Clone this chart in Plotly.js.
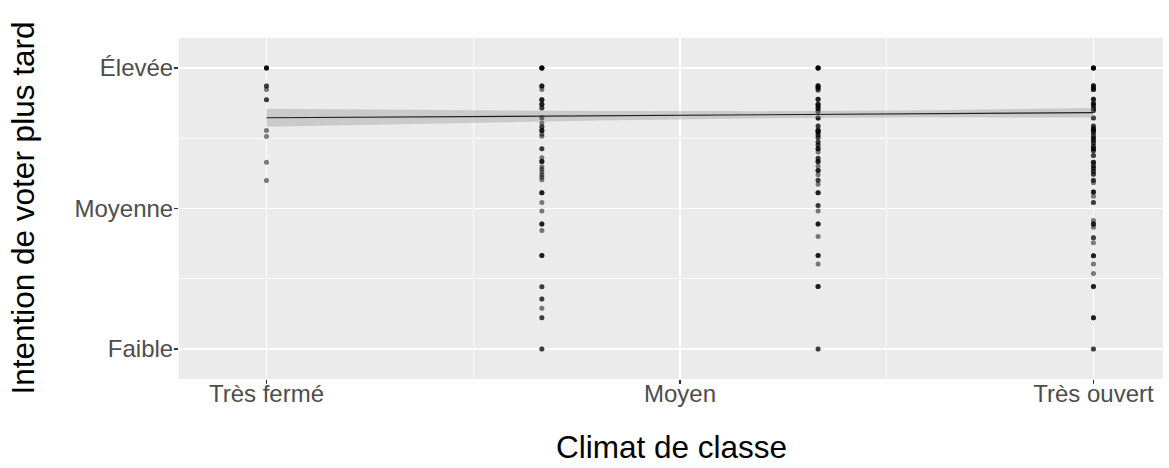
<!DOCTYPE html>
<html>
<head>
<meta charset="utf-8">
<script src="https://cdn.plot.ly/plotly-3.0.1.min.js"></script>
<style>html,body{margin:0;padding:0;background:#fff;}#chart{width:1169px;height:468px;}</style>
</head>
<body>
<div id="chart"></div>
<script>
// Tick labels
const xTickVals = [0, 0.5, 1];
const xTickText = ["Très fermé", "Moyen", "Très ouvert"];
const yTickVals = [0, 0.5, 1];
const yTickText = ["Faible", "Moyenne", "Élevée"];

// Class climate groups (x position of each column of points)
const groupX = [0, 0.333, 0.667, 1];

// Voting intention values per group, with how many respondents share each value
const valsG0 = [1.0, 0.936, 0.924, 0.887, 0.778, 0.756, 0.665, 0.600];
const cntG0  = [4, 2, 1, 2, 1, 1, 1, 1];

const valsG1 = [1.0, 0.936, 0.924, 0.887, 0.871, 0.858, 0.823, 0.805, 0.791, 0.778, 0.765, 0.757, 0.713, 0.681, 0.667, 0.649, 0.640, 0.630, 0.620, 0.612, 0.602, 0.556, 0.521, 0.491, 0.445, 0.422, 0.333, 0.221, 0.178, 0.145, 0.111, 0.0];
const cntG1  = [5, 3, 1, 3, 3, 2, 2, 1, 2, 3, 1, 1, 2, 1, 3, 1, 1, 1, 1, 1, 1, 3, 1, 1, 3, 1, 3, 2, 2, 1, 2, 2];

const valsG2 = [1.0, 0.937, 0.930, 0.922, 0.889, 0.871, 0.862, 0.855, 0.845, 0.822, 0.794, 0.779, 0.772, 0.763, 0.753, 0.737, 0.726, 0.713, 0.701, 0.679, 0.667, 0.651, 0.635, 0.620, 0.601, 0.586, 0.556, 0.511, 0.491, 0.445, 0.400, 0.333, 0.302, 0.222, 0.0];
const cntG2  = [5, 3, 3, 2, 3, 3, 2, 2, 2, 3, 2, 3, 3, 2, 2, 2, 2, 3, 1, 2, 3, 1, 3, 1, 2, 1, 3, 2, 1, 3, 1, 3, 1, 3, 2];

const valsG3 = [1.0, 0.937, 0.930, 0.924, 0.889, 0.874, 0.866, 0.856, 0.849, 0.822, 0.794, 0.785, 0.779, 0.771, 0.759, 0.750, 0.743, 0.733, 0.722, 0.713, 0.706, 0.689, 0.665, 0.652, 0.643, 0.633, 0.622, 0.601, 0.592, 0.559, 0.544, 0.521, 0.457, 0.445, 0.433, 0.396, 0.378, 0.332, 0.302, 0.269, 0.222, 0.111, 0.0];
const cntG3  = [5, 3, 2, 3, 3, 3, 2, 2, 2, 2, 2, 2, 3, 2, 2, 2, 2, 2, 2, 3, 2, 2, 3, 2, 2, 2, 2, 2, 1, 3, 1, 2, 1, 3, 1, 2, 1, 3, 1, 1, 3, 3, 2];

// Linear fit (geom_smooth, method = lm)
const fitX  = [0, 0.2, 0.4, 0.6, 0.8, 1];
const fitY  = [0.823, 0.827, 0.830, 0.834, 0.837, 0.841];
const fitLo = [0.791, 0.803, 0.813, 0.8215, 0.8245, 0.824];
const fitHi = [0.855, 0.851, 0.847, 0.8465, 0.8495, 0.858];

// Expand groups into individual points
const allVals = [valsG0, valsG1, valsG2, valsG3];
const allCnts = [cntG0, cntG1, cntG2, cntG3];
const ptX = [], ptY = [];
allVals.forEach((vals, g) => {
  vals.forEach((v, i) => {
    for (let k = 0; k < allCnts[g][i]; k++) { ptX.push(groupX[g]); ptY.push(v); }
  });
});

const traces = [
  {
    type: 'scatter', mode: 'markers', x: ptX, y: ptY,
    marker: {color: 'rgba(0,0,0,0.5)', size: 5, line: {width: 0}},
    hoverinfo: 'skip', showlegend: false
  },
  {
    type: 'scatter', mode: 'lines', x: fitX, y: fitLo,
    line: {width: 0, color: 'rgba(0,0,0,0)'}, hoverinfo: 'skip', showlegend: false
  },
  {
    type: 'scatter', mode: 'lines', x: fitX, y: fitHi, fill: 'tonexty',
    fillcolor: 'rgba(153,153,153,0.4)',
    line: {width: 0, color: 'rgba(0,0,0,0)'}, hoverinfo: 'skip', showlegend: false
  },
  {
    type: 'scatter', mode: 'lines', x: fitX, y: fitY,
    line: {width: 1.2, color: '#1f1f1f'}, hoverinfo: 'skip', showlegend: false
  }
];

const tickFont = {family: 'Liberation Sans, Arial, sans-serif', size: 24, color: '#4d4d4d'};
const titleFont = {family: 'Liberation Sans, Arial, sans-serif', size: 31.5, color: '#000000'};

const layout = {
  width: 1169, height: 468,
  margin: {l: 179, r: 6, t: 38, b: 89, pad: 0},
  paper_bgcolor: '#ffffff',
  plot_bgcolor: '#ebebeb',
  showlegend: false,
  xaxis: {
    range: [-0.1058, 1.0841], tickmode: 'array', tickvals: xTickVals, ticktext: xTickText,
    showgrid: true, gridcolor: '#ffffff', gridwidth: 1.6, zeroline: false, showline: false,
    ticks: 'outside', ticklen: 4, tickwidth: 1.2, tickcolor: '#333333', tickfont: tickFont,
    ticklabelstandoff: -11,
    minor: {tickmode: 'array', tickvals: [0.25, 0.75], showgrid: true, gridcolor: '#ffffff', gridwidth: 0.8, ticks: ''},
    fixedrange: true
  },
  yaxis: {
    range: [-0.107, 1.107], tickmode: 'array', tickvals: yTickVals, ticktext: yTickText,
    showgrid: true, gridcolor: '#ffffff', gridwidth: 1.6, zeroline: false, showline: false,
    ticks: 'outside', ticklen: 4, tickwidth: 1.2, tickcolor: '#333333', tickfont: tickFont,
    ticklabelstandoff: -4,
    minor: {tickmode: 'array', tickvals: [0.25, 0.75], showgrid: true, gridcolor: '#ffffff', gridwidth: 0.8, ticks: ''},
    fixedrange: true
  },
  annotations: [
    {text: 'Climat de classe', xref: 'paper', yref: 'paper', x: 0.5, y: -0.199,
     xanchor: 'center', yanchor: 'middle', showarrow: false, font: titleFont},
    {text: 'Intention de voter plus tard', xref: 'paper', yref: 'paper', x: -0.1595, y: 0.5,
     xanchor: 'center', yanchor: 'middle', textangle: -90, showarrow: false, font: titleFont}
  ]
};

Plotly.newPlot('chart', traces, layout, {staticPlot: true, displayModeBar: false});
</script>
</body>
</html>
